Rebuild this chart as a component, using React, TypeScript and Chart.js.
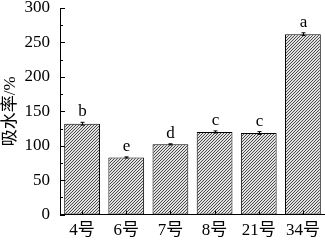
import React, { useEffect, useRef } from "react";
import { Chart, registerables } from "chart.js";
Chart.register(...registerables);

const categories = ["4号", "6号", "7号", "8号", "21号", "34号"];
const values = [132, 83, 102, 120, 118.5, 262];
const errors = [2, 0.8, 0.8, 1.5, 2, 2];
const letters = ["b", "e", "d", "c", "c", "a"];
const yTicks = [0, 50, 100, 150, 200, 250, 300];
const yTitle = "吸水率/%";

const FONT = "'Liberation Serif', 'Times New Roman', 'Noto Sans CJK SC', serif";

function makePattern(): CanvasPattern | string {
  const c = document.createElement("canvas");
  c.width = 3;
  c.height = 3;
  const g = c.getContext("2d");
  if (!g) return "#888";
  g.fillStyle = "#e2e2e2";
  g.fillRect(0, 0, 3, 3);
  g.strokeStyle = "#4a4a4a";
  g.lineWidth = 1;
  g.beginPath();
  g.moveTo(-1, 4);
  g.lineTo(4, -1);
  g.moveTo(2, 4);
  g.lineTo(4, 2);
  g.moveTo(-1, 1);
  g.lineTo(1, -1);
  g.stroke();
  const p = g.createPattern(c, "repeat");
  return p || "#888";
}

const overlay = {
  id: "overlay",
  afterDatasetsDraw(chart: any) {
    const ctx = chart.ctx;
    const x = chart.scales.x;
    const y = chart.scales.y;
    const area = chart.chartArea;
    ctx.save();
    ctx.strokeStyle = "#000";
    ctx.lineWidth = 1;
    for (let v = 0; v <= 300; v += 25) {
      const py = Math.round(y.getPixelForValue(v)) + 0.5;
      const len = v % 50 === 0 ? 5 : 3;
      ctx.beginPath();
      ctx.moveTo(area.left, py);
      ctx.lineTo(area.left + len, py);
      ctx.stroke();
    }
    categories.forEach((_, i) => {
      const px = Math.round(x.getPixelForValue(i)) + 0.5;
      ctx.beginPath();
      ctx.moveTo(px, area.bottom);
      ctx.lineTo(px, area.bottom - 4);
      ctx.stroke();
    });
    ctx.font = `17px ${FONT}`;
    ctx.fillStyle = "#000";
    ctx.textAlign = "center";
    ctx.textBaseline = "alphabetic";
    values.forEach((v, i) => {
      const px = Math.round(x.getPixelForValue(i)) + 0.5;
      const top = y.getPixelForValue(v + errors[i]);
      const bot = y.getPixelForValue(v - errors[i]);
      ctx.beginPath();
      ctx.moveTo(px, top);
      ctx.lineTo(px, bot);
      ctx.moveTo(px - 2, top);
      ctx.lineTo(px + 2, top);
      ctx.moveTo(px - 2, bot);
      ctx.lineTo(px + 2, bot);
      ctx.stroke();
      ctx.fillText(letters[i], px, top - 6);
    });
    ctx.restore();
  },
};

export default function App() {
  const ref = useRef<HTMLCanvasElement>(null);
  useEffect(() => {
    if (!ref.current) return;
    const chart = new Chart(ref.current, {
      type: "bar",
      data: {
        labels: categories,
        datasets: [
          {
            data: values,
            backgroundColor: makePattern() as any,
            borderColor: "#000",
            borderWidth: 1,
            borderSkipped: false,
            categoryPercentage: 1,
            barPercentage: 0.81,
          },
        ],
      },
      options: {
        animation: false,
        responsive: false,
        maintainAspectRatio: false,
        layout: { padding: { top: 8, right: 0, left: 0, bottom: -3 } },
        plugins: {
          legend: { display: false },
          tooltip: { enabled: false },
        },
        scales: {
          x: {
            grid: { display: false, drawTicks: false },
            border: { display: true, color: "#000", width: 1 },
            ticks: {
              color: "#000",
              font: { family: FONT, size: 17 },
              padding: 6,
            },
            afterFit(scale: any) {
              scale.paddingLeft = 0;
              scale.paddingRight = 0;
            },
          },
          y: {
            min: 0,
            max: 300,
            afterFit(scale: any) {
              scale.width = 60;
              scale.paddingTop = 0;
              scale.paddingBottom = 0;
            },
            afterBuildTicks(scale: any) {
              scale.ticks = yTicks.map((v) => ({ value: v }));
            },
            grid: { display: false, drawTicks: false },
            border: { display: true, color: "#000", width: 1 },
            ticks: {
              color: "#000",
              font: { family: FONT, size: 17 },
              padding: 10,
            },
            title: {
              display: true,
              text: yTitle,
              color: "#000",
              font: { family: FONT, size: 17 },
              padding: 0,
            },
          },
        },
      },
      plugins: [overlay],
    });
    return () => chart.destroy();
  }, []);
  return (
    <div style={{ position: "fixed", left: 0, top: 0, width: 325, height: 244, background: "#fff" }}>
      <canvas ref={ref} width={325} height={244} style={{ width: 325, height: 244 }} />
    </div>
  );
}
